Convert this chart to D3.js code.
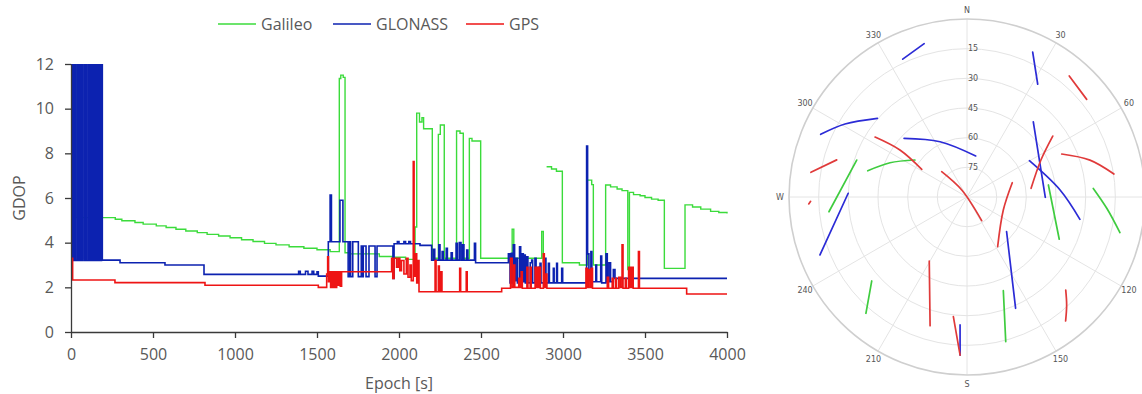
<!DOCTYPE html>
<html>
<head>
<meta charset="utf-8">
<script src="https://cdn.jsdelivr.net/npm/d3@7"></script>
<style>
  html, body { margin: 0; padding: 0; background: #fff; }
  svg { display: block; }
</style>
</head>
<body>
<div id="chart"></div>
<script>
// ---- GDOP time series, [epoch s, GDOP], drawn as steps ----
const epochTicks = [0, 500, 1000, 1500, 2000, 2500, 3000, 3500, 4000];
const gdopTicks = [0, 2, 4, 6, 8, 10, 12];

const galileoGdop = [
  [0, 14], [30, 5.12], [270, 5.05], [310, 4.98], [390, 4.9], [440, 4.83], [520, 4.75], [580, 4.68],
  [640, 4.6], [700, 4.52], [770, 4.45], [830, 4.37], [900, 4.3], [970, 4.22], [1040, 4.13], [1110, 4.05],
  [1180, 3.97], [1250, 3.9], [1330, 3.82], [1420, 3.75], [1500, 3.68], [1580, 3.6], [1636, 11.35],
  [1645, 11.5], [1660, 11.4], [1671, 3.55], [1700, 3.5], [1880, 3.38], [1960, 3.35], [2040, 3.25],
  [2098, 4.7], [2108, 9.8], [2125, 9.4], [2140, 9.6], [2150, 9.1], [2203, 3.3], [2240, 8.85],
  [2252, 9.27], [2276, 3.3], [2351, 9.0], [2372, 8.9], [2392, 3.3], [2429, 8.67], [2445, 8.55],
  [2498, 3.3], [2690, 4.6], [2700, 3.3], [2870, 4.5], [2880, 3.1], [2898, NaN], [2900, 7.4],
  [2930, 7.3], [2960, 7.2], [2996, 3.1], [3100, 3.0], [3148, 6.8], [3175, 6.6], [3185, 3.0],
  [3260, 6.58], [3290, 6.5], [3330, 6.4], [3360, 6.33], [3395, 2.8], [3405, 6.25], [3430, 6.15],
  [3470, 6.1], [3500, 6.02], [3540, 5.95], [3580, 5.9], [3618, 2.85], [3744, 5.69], [3790, 5.6],
  [3840, 5.5], [3900, 5.4], [3950, 5.35], [4000, 5.31]
];

const glonassGdop = [
  [0, 13], [5, 3.2], [9, 13], [13, 3.2], [17, 13], [21, 3.2], [25, 13], [28, 3.2], [38, 13], [42, 3.2],
  [46, 13], [50, 3.2], [54, 13], [58, 3.2], [62, 13], [66, 3.2], [70, 13], [80, 3.2], [84, 13], [88, 3.2],
  [92, 13], [96, 3.2], [106, 13], [110, 3.2], [114, 13], [118, 3.2], [122, 13], [126, 3.2], [130, 13],
  [134, 3.2], [138, 13], [142, 3.2], [146, 13], [150, 3.2], [154, 13], [158, 3.2], [162, 13], [166, 3.2],
  [170, 13], [174, 3.2], [178, 13], [182, 3.2], [186, 13], [191, 3.22],
  [299, 3.1], [573, 3.0], [811, 2.58], [1388, 2.72], [1398, 2.58], [1430, 2.72], [1445, 2.58],
  [1470, 2.72], [1480, 2.58], [1500, 2.7], [1508, 2.5], [1569, 4.04], [1580, 6.13], [1588, 4.04],
  [1640, 5.9], [1658, 4.04], [1690, 2.48], [1700, 4.04], [1705, 2.48], [1718, 4.04], [1752, 2.48],
  [1770, 3.85], [1775, 2.48], [1782, 3.85], [1799, 2.48], [1817, 3.85], [1854, 2.48], [1866, 3.85],
  [1963, 2.4], [1970, 3.95], [1990, 4.05], [2000, 3.95], [2030, 4.05], [2040, 3.95], [2060, 4.05],
  [2070, 3.95], [2128, 3.88], [2199, 3.22], [2210, 3.7], [2218, 3.22], [2243, 3.9], [2250, 3.22],
  [2263, 3.6], [2270, 3.22], [2288, 3.75], [2295, 3.22], [2318, 3.55], [2325, 3.22], [2348, 3.97],
  [2356, 3.22], [2368, 4.0], [2378, 3.22], [2388, 3.9], [2396, 3.22], [2413, 3.67], [2420, 3.22],
  [2460, 3.97], [2467, 3.1], [2667, 3.5], [2677, 2.2], [2685, 3.52], [2692, 2.2], [2697, 3.9],
  [2705, 2.3], [2712, 3.3], [2722, 2.2], [2735, 3.82], [2742, 2.2], [2750, 3.5], [2758, 2.25],
  [2762, 3.45], [2770, 2.2], [2779, 3.37], [2786, 2.2], [2800, 3.1], [2809, 3.22], [2815, 2.2],
  [2829, 3.3], [2836, 2.2], [2850, 2.9], [2860, 3.08], [2866, 2.2], [2890, 3.3], [2896, 2.2],
  [2911, 3.08], [2917, 2.2], [2941, 2.85], [2946, 2.2], [2961, 3.08], [2966, 2.2], [2992, 2.85],
  [2998, 2.2], [3144, 8.33], [3150, 3.5], [3158, 2.3], [3170, 3.6], [3176, 2.25], [3200, 3.0],
  [3205, 2.25], [3230, 3.4], [3236, 2.2], [3262, 3.5], [3270, 2.25], [3280, 3.1], [3290, 2.25],
  [3307, 2.8], [3317, 2.4], [4000, 2.4]
];

const gpsGdop = [
  [0, 3.3], [10, 2.33], [268, 2.21], [817, 2.09], [1508, 2.0], [1559, 2.6], [1565, 3.37], [1570, 2.25],
  [1575, 2.7], [1583, 2.0], [1590, 2.7], [1598, 2.0], [1605, 2.7], [1612, 2.0], [1620, 2.7], [1628, 2.1],
  [1635, 2.7], [1642, 2.05], [1650, 2.7], [1955, 3.3], [1962, 2.4], [1970, 3.3], [1985, 2.9],
  [1995, 3.3], [2005, 2.75], [2015, 3.2], [2030, 2.6], [2045, 3.3], [2055, 2.45], [2067, 3.0],
  [2075, 2.3], [2087, 7.63], [2092, 2.5], [2100, 3.5], [2108, 2.2], [2115, 3.2], [2122, 1.8],
  [2220, 3.2], [2226, 1.8], [2240, 2.95], [2246, 1.8], [2255, 2.7], [2262, 1.8], [2370, 2.85],
  [2376, 1.8], [2410, 2.7], [2416, 1.8], [2626, 1.96], [2680, 3.3], [2690, 2.0], [2700, 3.0],
  [2706, 2.0], [2730, 2.4], [2736, 2.0], [2745, 2.7], [2752, 1.96], [2780, 2.9], [2786, 1.96],
  [2800, 2.9], [2806, 1.96], [2830, 2.9], [2836, 2.0], [2842, 2.9], [2848, 2.0], [2854, 2.9],
  [2862, 1.96], [2880, 3.5], [2886, 2.0], [2895, 2.6], [2902, 1.96], [3140, 2.85], [3148, 2.0],
  [3155, 2.8], [3165, 2.0], [3172, 2.85], [3180, 1.96], [3270, 2.45], [3278, 1.96], [3300, 2.4],
  [3306, 1.96], [3320, 2.4], [3326, 1.96], [3340, 2.45], [3350, 2.0], [3360, 3.9], [3366, 1.96],
  [3380, 2.4], [3386, 1.96], [3400, 2.9], [3405, 2.0], [3410, 2.9], [3416, 2.0], [3422, 2.9],
  [3428, 1.96], [3460, 3.6], [3466, 1.96], [3754, 1.7], [4000, 1.7]
];

// ---- skyplot tracks, [azimuth deg, elevation deg] ----
const elevationRings = [15, 30, 45, 60, 75];
const azimuthLabels = [[0, 'N'], [30, '30'], [60, '60'], [120, '120'], [150, '150'], [180, 'S'],
  [210, '210'], [240, '240'], [270, 'W'], [300, '300'], [330, '330']];

const galileoTracks = [
  [[284.8, 38.1], [294, 47.4], [305.4, 57.7]],
  [[288.5, 31.2], [263.9, 19.8]],
  [[81.6, 48.4], [114.6, 38.7]],
  [[86.1, 26.0], [94.6, 19.1], [103.1, 10.6]],
  [[158.8, 39.2], [165.0, 14.3]],
  [[228.6, 25.8], [221.0, 12.1]]
];
const glonassTracks = [
  [[335, 13.1], [344.4, 9.5]],
  [[24.4, 9.6], [32.1, 22.7]],
  [[293.2, 9.5], [300.9, 18.1], [311.3, 29.7]],
  [[313, 46.5], [334, 58.9], [12, 68.8]],
  [[271.8, 29.9], [248.5, 10.1]],
  [[41.4, 39.3], [90.2, 50.4]],
  [[59.8, 53.5], [85.7, 42.8], [101.2, 31.8]],
  [[183.1, 25.2], [182.5, 10.0]],
  [[131.2, 63.4], [156.4, 28.6]]
];
const gpsTracks = [
  [[40.2, 9.9], [50.8, 11.9]],
  [[303.1, 34.5], [305, 48.6], [301.4, 63.2]],
  [[279, 10.1], [285.9, 21.5]],
  [[267.5, 9.9], [268.4, 10.9]],
  [[315, 71.9], [323, 85.6], [148.2, 75.9]],
  [[72.5, 66.0], [109.7, 70.5], [148.3, 60.5]],
  [[54.6, 36.8], [63.4, 48.2], [82.3, 57.3]],
  [[65.6, 37.4], [73.3, 25.1], [81.1, 14.8]],
  [[210.5, 52.4], [196.0, 22.3]],
  [[186.5, 29.1], [182.5, 10.0]],
  [[133.3, 21.4], [137.3, 15.7], [141.5, 9.9]]
];

const systems = [
  { name: 'Galileo', gdop: galileoGdop, tracks: galileoTracks, color: '#3bdb3b', sky: '#3fcc3f', w: 1.4 },
  { name: 'GLONASS', gdop: glonassGdop, tracks: glonassTracks, color: '#0c22b0', sky: '#2b2bd6', w: 1.6 },
  { name: 'GPS', gdop: gpsGdop, tracks: gpsTracks, color: '#ee1414', sky: '#e03a3a', w: 1.6 }
];

const width = 1142, height = 394;
const labelColor = '#595959';
const font = 'Open Sans';

const svg = d3.select('#chart').append('svg')
  .attr('width', width)
  .attr('height', height);

// ---------- left: GDOP chart ----------
const plot = { left: 71, right: 727, top: 64, bottom: 332 };

const x = d3.scaleLinear().domain([0, 4000]).range([plot.left, plot.right]);
const y = d3.scaleLinear().domain([0, 12]).range([plot.bottom, plot.top]);

svg.append('defs').append('clipPath')
  .attr('id', 'plotClip')
  .append('rect')
  .attr('x', plot.left)
  .attr('y', plot.top)
  .attr('width', plot.right - plot.left + 2)
  .attr('height', plot.bottom - plot.top);

const line = d3.line()
  .defined(d => !isNaN(d[1]))
  .x(d => x(d[0]))
  .y(d => y(d[1]))
  .curve(d3.curveStepAfter);

const lines = svg.append('g').attr('clip-path', 'url(#plotClip)');
systems.forEach(s => {
  lines.append('path')
    .datum(s.gdop)
    .attr('fill', 'none')
    .attr('stroke', s.color)
    .attr('stroke-width', s.w)
    .attr('d', line);
});

const yAxis = svg.append('g')
  .attr('transform', `translate(${plot.left},0)`)
  .call(d3.axisLeft(y).tickValues(gdopTicks).tickSize(6).tickSizeOuter(0).tickPadding(11));

const xAxis = svg.append('g')
  .attr('transform', `translate(0,${plot.bottom})`)
  .call(d3.axisBottom(x).tickValues(epochTicks).tickFormat(d3.format('d'))
    .tickSize(6).tickSizeOuter(0).tickPadding(11));

[xAxis, yAxis].forEach(a => {
  a.select('.domain').attr('stroke', '#3a3a3a').attr('stroke-width', 1.3);
  a.selectAll('.tick line').attr('stroke', '#3a3a3a').attr('stroke-width', 1.3);
  a.selectAll('.tick text')
    .attr('font-family', font)
    .attr('font-size', '16px')
    .attr('fill', labelColor);
});

svg.append('text')
  .attr('x', 399)
  .attr('y', 389)
  .attr('text-anchor', 'middle')
  .attr('font-family', font)
  .attr('font-size', '16px')
  .attr('fill', labelColor)
  .text('Epoch [s]');

svg.append('text')
  .attr('transform', 'translate(25,198) rotate(-90)')
  .attr('text-anchor', 'middle')
  .attr('font-family', font)
  .attr('font-size', '16px')
  .attr('fill', labelColor)
  .text('GDOP');

// legend
const legendX = [218, 333, 466];
systems.forEach((s, i) => {
  const g = svg.append('g').attr('transform', `translate(${legendX[i]},24)`);
  g.append('line')
    .attr('x1', 0).attr('x2', 38)
    .attr('stroke', s.color)
    .attr('stroke-width', 1.5);
  g.append('text')
    .attr('x', 43)
    .attr('y', 6)
    .attr('font-family', font)
    .attr('font-size', '16px')
    .attr('fill', labelColor)
    .text(s.name);
});

// ---------- right: skyplot ----------
const cx = 967, cy = 197, R = 178;
const r = d3.scaleLinear().domain([90, 0]).range([0, R]);
const rad = d3.scaleLinear().domain([0, 360]).range([0, 2 * Math.PI]);

const sky = svg.append('g').attr('transform', `translate(${cx},${cy})`);

d3.range(0, 360, 30).forEach(az => {
  sky.append('line')
    .attr('x1', 0).attr('y1', 0)
    .attr('x2', R * Math.sin(rad(az)))
    .attr('y2', -R * Math.cos(rad(az)))
    .attr('stroke', '#e4e4e4')
    .attr('stroke-width', 1);
});

elevationRings.forEach(el => {
  sky.append('circle')
    .attr('r', r(el))
    .attr('fill', 'none')
    .attr('stroke', '#e4e4e4')
    .attr('stroke-width', 1);
});

sky.append('circle')
  .attr('r', r(0))
  .attr('fill', 'none')
  .attr('stroke', '#cfcfcf')
  .attr('stroke-width', 1.6);

elevationRings.forEach(el => {
  sky.append('text')
    .attr('x', 1)
    .attr('y', -r(el))
    .attr('dy', '0.35em')
    .attr('font-family', 'DejaVu Sans')
    .attr('font-size', '8px')
    .attr('fill', '#555')
    .text(el);
});

azimuthLabels.forEach(([az, label]) => {
  sky.append('text')
    .attr('x', (R + 9) * Math.sin(rad(az)))
    .attr('y', -(R + 9) * Math.cos(rad(az)))
    .attr('dy', '0.35em')
    .attr('text-anchor', 'middle')
    .attr('font-family', 'DejaVu Sans')
    .attr('font-size', '8px')
    .attr('fill', '#555')
    .text(label);
});

const track = d3.lineRadial()
  .angle(d => rad(d[0]))
  .radius(d => r(d[1]))
  .curve(d3.curveCatmullRom);

systems.forEach(s => {
  s.tracks.forEach(t => {
    sky.append('path')
      .datum(t)
      .attr('fill', 'none')
      .attr('stroke', s.sky)
      .attr('stroke-width', 1.7)
      .attr('stroke-linecap', 'round')
      .attr('d', track);
  });
});
</script>
</body>
</html>
